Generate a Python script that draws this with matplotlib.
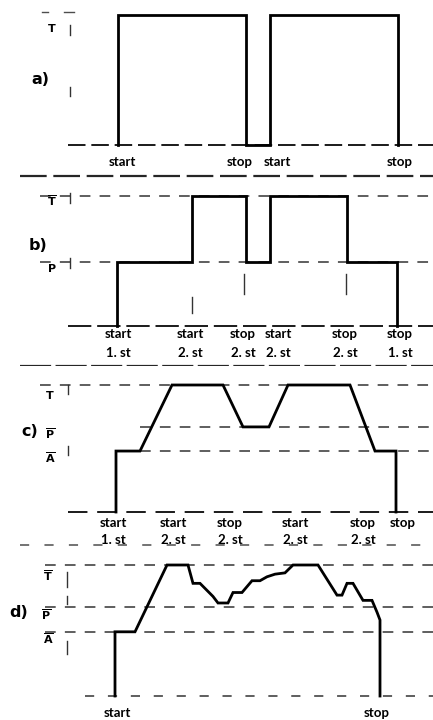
import matplotlib
matplotlib.use("Agg")
import matplotlib.pyplot as plt

W, H = 433, 720

# curve data: time (horizontal) and level (0 = base, 1 = T)
a_t = [118, 118, 246, 246, 270, 270, 398, 398]
a_y = [0, 1, 1, 0, 0, 1, 1, 0]

b_t = [117, 117, 192, 192, 246, 246, 270, 270, 347, 347, 397, 397]
b_y = [0, 0.49, 0.49, 1, 1, 0.49, 0.49, 1, 1, 0.49, 0.49, 0]

c_t = [116, 116, 140, 172, 223, 243, 269, 288, 350, 375, 396, 396]
c_y = [0, 0.48, 0.48, 1, 1, 0.67, 0.67, 1, 1, 0.48, 0.48, 0]

d_t = [115, 115, 135, 167, 188, 193, 200, 213, 218, 228, 233, 242, 252, 260,
       267, 275, 285, 293, 318, 337, 342, 347, 353, 363, 372, 377, 380, 380]
d_y = [0, 0.49, 0.49, 1, 1, 0.86, 0.86, 0.76, 0.71, 0.71, 0.79, 0.79, 0.88, 0.88,
       0.91, 0.93, 0.94, 1, 1, 0.77, 0.77, 0.86, 0.86, 0.73, 0.73, 0.64, 0.58, 0]

b_levels = {"T": 1.0, "P": 0.49}
c_levels = {"T": 1.0, "P": 0.67, "A": 0.48}
d_levels = {"T": 1.0, "P": 0.68, "A": 0.49}

a_labels = [(122, "start"), (240, "stop"), (277, "start"), (400, "stop")]
b_labels = [(118, "start", "1. st"), (190, "start", "2. st"), (243, "stop", "2. st"),
            (278, "start", "2. st"), (345, "stop", "2. st"), (400, "stop", "1. st")]
c_labels = [(113, "start", "1. st"), (173, "start", "2. st"), (230, "stop", "2. st"),
            (295, "start", "2. st"), (363, "stop", "2. st"), (403, "stop", "")]
d_labels = [(117, "start"), (377, "stop")]

fig = plt.figure(figsize=(W / 100, H / 100), dpi=100)

DASH = dict(color="0.2", lw=1.1, ls=(0, (7, 6)))
CURVE = dict(color="black", lw=2.0, solid_joinstyle="miter")
LAB = dict(fontsize=9.5, fontweight="bold", ha="center", va="center", family="Lato")
PAN = dict(fontsize=11.5, fontweight="bold", ha="center", va="center")


def panel(base_px, top_px):
    span = base_px - top_px
    ax = fig.add_axes([0, 1 - (base_px + 40) / H, 1, (span + 60) / H])
    ax.set_xlim(0, W)
    ax.set_ylim(-40 / span, 1 + 20 / span)
    ax.axis("off")
    ax.patch.set_visible(False)
    return ax, span


def level_name(ax, x, y, name, bar=True):
    txt = r"$\overline{\mathbf{%s}}$" % name if bar else r"$\mathbf{%s}$" % name
    ax.text(x, y, txt, fontsize=8, ha="center", va="center")


# ---- a)
ax, span = panel(145, 15)
ax.plot([68, W], [0, 0], color="0.1", lw=1.4, ls=(0, (9, 3)))
ax.plot(a_t, a_y, **CURVE)
ax.plot([42, 48], [1.02, 1.02], color="0.3", lw=1)
ax.plot([64, 74], [1.02, 1.02], color="0.3", lw=1)
ax.plot([70, 70], [0.85, 0.92], color="0.2", lw=1)
ax.plot([70, 70], [0.38, 0.45], color="0.2", lw=1)
level_name(ax, 52, 0.9, "T", bar=False)
ax.text(40, 0.5, "a)", **PAN)
for x, s in a_labels:
    ax.text(x, -0.13, s, **LAB)
ax.plot([20, W], [-0.24, -0.24], color="0.15", lw=1.6, ls=(0, (12, 3)))

# ---- b)
ax, span = panel(326, 196)
for name, lv in b_levels.items():
    ax.plot([40, W], [lv, lv], **DASH)
ax.plot([68, W], [0, 0], color="0.1", lw=1.4, ls=(0, (12, 3)))
ax.plot(b_t, b_y, **CURVE)
for x in [192, 244, 346]:
    ax.plot([x, x], [0.1, 0.22] if x == 192 else [0.25, 0.4], color="0.2", lw=1)
ax.plot([70, 70], [0.95, 1.02], color="0.2", lw=1)
ax.plot([70, 70], [0.45, 0.52], color="0.2", lw=1)
level_name(ax, 52, 0.96, "T")
level_name(ax, 52, 0.45, "P", bar=False)
ax.text(38, 0.62, "b)", **PAN)
for x, s1, s2 in b_labels:
    ax.text(x, -0.06, s1, **LAB)
    ax.text(x, -0.21, s2, **LAB)
ax.plot([20, W], [-0.31, -0.31], color="0.15", lw=1.6, ls=(0, (14, 2)))

# ---- c)
ax, span = panel(512, 385)
for name, lv in c_levels.items():
    ax.plot([40 if name == "T" else 140, W], [lv, lv], **DASH)
ax.plot([68, W], [0, 0], color="0.1", lw=1.4, ls=(0, (10, 5)))
ax.plot(c_t, c_y, **CURVE)
ax.plot([68, 68], [0.93, 1.0], color="0.2", lw=1)
ax.plot([68, 68], [0.45, 0.52], color="0.2", lw=1)
level_name(ax, 50, 0.92, "T", bar=False)
level_name(ax, 50, 0.62, "P")
level_name(ax, 50, 0.43, "A")
ax.text(30, 0.63, "c)", **PAN)
for x, s1, s2 in c_labels:
    ax.text(x, -0.09, s1, **LAB)
    if s2:
        ax.text(x, -0.22, s2, **LAB)
ax.plot([20, W], [-0.26, -0.26], color="0.3", lw=1.1, ls=(0, (6, 10)))

# ---- d)
ax, span = panel(696, 565)
for name, lv in d_levels.items():
    ax.plot([45, W], [lv, lv], **DASH)
ax.plot([85, W], [0, 0], color="0.2", lw=1.1, ls=(0, (6, 9)))
ax.plot(d_t, d_y, **CURVE)
ax.plot([67, 67], [0.83, 0.95], color="0.2", lw=1)
ax.plot([67, 67], [0.7, 0.76], color="0.2", lw=1)
ax.plot([67, 67], [0.32, 0.42], color="0.2", lw=1)
level_name(ax, 48, 0.92, "T")
level_name(ax, 46, 0.62, "P")
level_name(ax, 48, 0.44, "A")
ax.text(19, 0.64, "d)", **PAN)
for x, s in d_labels:
    ax.text(x, -0.13, s, **LAB)

fig.savefig("out.png", dpi=100, facecolor="white")
